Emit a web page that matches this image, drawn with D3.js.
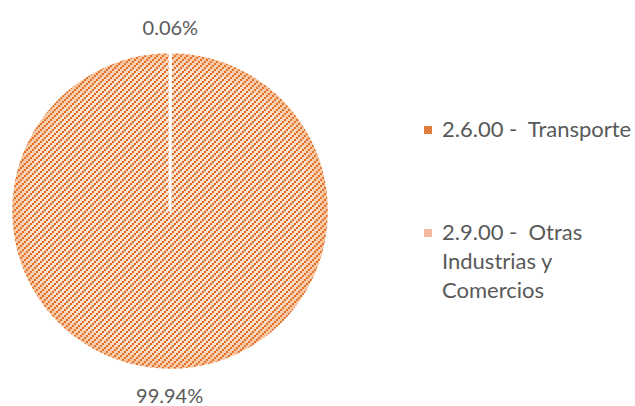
<!DOCTYPE html>
<html>
<head>
<meta charset="utf-8">
<script src="https://cdn.jsdelivr.net/npm/d3@7"></script>
<style>
  body { margin: 0; background: #fff; }
  svg text { font-family: Lato, "Open Sans", sans-serif; fill: #595959; white-space: pre; }
</style>
</head>
<body>
<svg id="chart" width="635" height="406"></svg>
<script>
categories = ['2.6.00 -  Transporte', '2.9.00 -  Otras Industrias y Comercios'];
values = [0.06, 99.94];
valueLabels = ['0.06%', '99.94%'];
// legend text broken into lines like the original
legendLines = [['2.6.00 -  Transporte'], ['2.9.00 -  Otras', 'Industrias y', 'Comercios']];

var width = 635, height = 406;
var cx = 170, cy = 211, radius = 159;

var svg = d3.select("#chart");
var defs = svg.append("defs");

// diagonal pattern of small squares, one per series
var patternColors = [
  {bg: '#f3b48c', fg: '#c9561a'},
  {bg: '#fbe1cf', fg: '#e0691d'}
];

patternColors.forEach(function(c, i) {
  var p = defs.append("pattern")
    .attr("id", "pat" + i)
    .attr("patternUnits", "userSpaceOnUse")
    .attr("width", 6)
    .attr("height", 6);
  p.append("rect").attr("width", 6).attr("height", 6).attr("fill", c.bg);
  [[0, 4], [2, 2], [4, 0]].forEach(function(s) {
    p.append("rect").attr("x", s[0]).attr("y", s[1])
      .attr("width", 2).attr("height", 2).attr("fill", c.fg);
  });
});

// tiny patterns for legend swatches
var swatchColors = [
  {bg: '#e98a4d', fg: '#c95f22'},
  {bg: '#f6c4ad', fg: '#efa689'}
];
swatchColors.forEach(function(c, i) {
  var p = defs.append("pattern")
    .attr("id", "sw" + i)
    .attr("patternUnits", "userSpaceOnUse")
    .attr("width", 3)
    .attr("height", 3);
  p.append("rect").attr("width", 3).attr("height", 3).attr("fill", c.bg);
  p.append("rect").attr("x", 2).attr("y", 0).attr("width", 1).attr("height", 1).attr("fill", c.fg);
  p.append("rect").attr("x", 1).attr("y", 1).attr("width", 1).attr("height", 1).attr("fill", c.fg);
  p.append("rect").attr("x", 0).attr("y", 2).attr("width", 1).attr("height", 1).attr("fill", c.fg);
});

// soft rim shading
var rim = defs.append("radialGradient").attr("id", "rim")
  .attr("cx", "50%").attr("cy", "50%").attr("r", "50%");
rim.append("stop").attr("offset", "88%").attr("stop-color", "#f08a40").attr("stop-opacity", 0);
rim.append("stop").attr("offset", "100%").attr("stop-color", "#f08a40").attr("stop-opacity", 0.35);

var pie = d3.pie().sort(null).value(d => d);
var arcs = pie(values);

var arc = d3.arc().innerRadius(0).outerRadius(radius);
var labelArc = d3.arc().innerRadius(radius + 25).outerRadius(radius + 25);

var g = svg.append("g").attr("transform", "translate(" + cx + "," + cy + ")");

g.selectAll("path.slice")
  .data(arcs)
  .enter()
  .append("path")
  .attr("class", "slice")
  .attr("d", arc)
  .attr("fill", (d, i) => "url(#pat" + i + ")");

g.append("circle")
  .attr("r", radius)
  .attr("fill", "url(#rim)")
  .attr("pointer-events", "none");

g.selectAll("path.edge")
  .data(arcs)
  .enter()
  .append("path")
  .attr("class", "edge")
  .attr("d", arc)
  .attr("fill", "none")
  .attr("stroke", "#fff")
  .attr("stroke-width", 2.5)
  .attr("stroke-linejoin", "round");

// value labels outside the pie
g.selectAll("text.val")
  .data(arcs)
  .enter()
  .append("text")
  .attr("class", "val")
  .attr("x", d => labelArc.centroid(d)[0])
  .attr("y", d => labelArc.centroid(d)[1])
  .attr("text-anchor", "middle")
  .attr("dominant-baseline", "central")
  .attr("font-size", "20px")
  .text((d, i) => valueLabels[i]);

// legend
var legendY = [130, 233];
var legend = svg.append("g").attr("transform", "translate(424,0)");

legend.selectAll("rect")
  .data(categories)
  .enter()
  .append("rect")
  .attr("x", 0)
  .attr("y", (d, i) => legendY[i] - 4)
  .attr("width", 8)
  .attr("height", 8)
  .attr("fill", (d, i) => "url(#sw" + i + ")");

legend.selectAll("text")
  .data(categories)
  .enter()
  .append("text")
  .attr("x", 18)
  .attr("y", (d, i) => legendY[i] + 7)
  .attr("font-size", "22px")
  .each(function(d, i) {
    var t = d3.select(this);
    legendLines[i].forEach(function(line, j) {
      t.append("tspan")
        .attr("x", 18)
        .attr("dy", j === 0 ? 0 : 29)
        .text(line);
    });
  });
</script>
</body>
</html>
